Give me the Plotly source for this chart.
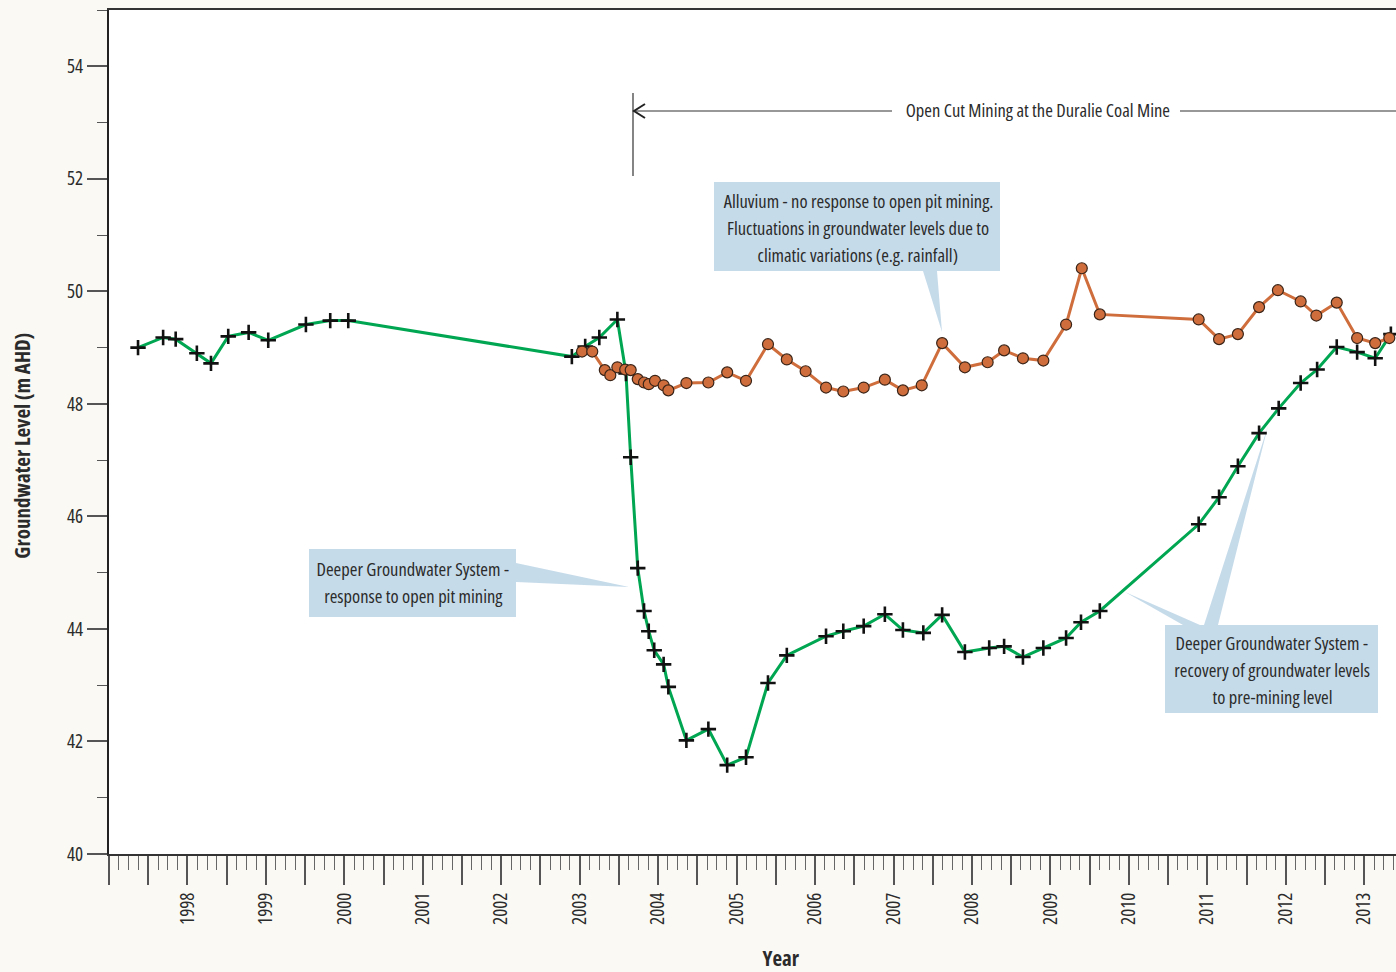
import plotly.graph_objects as go

# ---------------- data ----------------
deep_years = [1997.37, 1997.69, 1997.85, 1998.12, 1998.30, 1998.52, 1998.78, 1999.03,
              1999.51, 1999.82, 2000.05, 2002.90, 2003.07, 2003.25, 2003.48, 2003.59,
              2003.65, 2003.74, 2003.82, 2003.88, 2003.95, 2004.07, 2004.13, 2004.36,
              2004.64, 2004.88, 2005.12, 2005.40, 2005.64, 2006.14, 2006.36, 2006.62,
              2006.89, 2007.12, 2007.38, 2007.62, 2007.91, 2008.22, 2008.41, 2008.65,
              2008.91, 2009.20, 2009.39, 2009.63, 2010.89, 2011.15, 2011.39, 2011.66,
              2011.91, 2012.19, 2012.40, 2012.65, 2012.91, 2013.14, 2013.34]
deep_level = [49.00, 49.18, 49.15, 48.90, 48.72, 49.20, 49.27, 49.13,
              49.41, 49.48, 49.48, 48.84, 49.02, 49.18, 49.50, 48.54,
              47.05, 45.08, 44.32, 43.96, 43.62, 43.37, 42.97, 42.02,
              42.22, 41.58, 41.72, 43.04, 43.53, 43.87, 43.96, 44.05,
              44.26, 43.98, 43.93, 44.25, 43.59, 43.66, 43.69, 43.50,
              43.66, 43.84, 44.12, 44.32, 45.86, 46.34, 46.89, 47.48,
              47.92, 48.37, 48.61, 49.01, 48.92, 48.81, 49.24]

alluv_years = [2003.03, 2003.16, 2003.32, 2003.39, 2003.48, 2003.58, 2003.65, 2003.74,
               2003.82, 2003.88, 2003.96, 2004.07, 2004.13, 2004.36, 2004.64, 2004.88,
               2005.12, 2005.40, 2005.64, 2005.88, 2006.14, 2006.36, 2006.62, 2006.89,
               2007.12, 2007.36, 2007.62, 2007.91, 2008.20, 2008.41, 2008.65, 2008.91,
               2009.20, 2009.40, 2009.63, 2010.89, 2011.15, 2011.39, 2011.66, 2011.90,
               2012.19, 2012.39, 2012.65, 2012.91, 2013.14, 2013.32]
alluv_level = [48.93, 48.93, 48.60, 48.51, 48.65, 48.61, 48.60, 48.44,
               48.38, 48.35, 48.41, 48.33, 48.24, 48.37, 48.38, 48.56,
               48.41, 49.06, 48.79, 48.58, 48.29, 48.22, 48.29, 48.43,
               48.24, 48.33, 49.08, 48.65, 48.74, 48.95, 48.81, 48.77,
               49.41, 50.41, 49.59, 49.50, 49.15, 49.24, 49.72, 50.02,
               49.82, 49.57, 49.80, 49.17, 49.08, 49.17]

year_labels = [str(y) for y in range(1998, 2014)]
y_ticks = [40, 42, 44, 46, 48, 50, 52, 54]

x_title = "Year"
y_title = "Groundwater Level (m AHD)"
mining_text = "Open Cut Mining at the Duralie Coal Mine"
alluvium_lines = ["Alluvium - no response to open pit mining.",
                  "Fluctuations in groundwater levels due to",
                  "climatic variations (e.g. rainfall)"]
response_lines = ["Deeper Groundwater System -", "response to open pit mining"]
recovery_lines = ["Deeper Groundwater System -", "recovery of groundwater levels",
                  "to pre-mining level"]

# ---------------- layout constants ----------------
W, H = 1396, 972
ML, MR, MT, MB = 109, 0, 10, 118
X0 = 1997.0
PX_PER_YEAR = 78.45
X1 = X0 + (W - ML - MR) / PX_PER_YEAR
Y0, Y1 = 40, 55
PX_PER_UNIT = (H - MT - MB) / (Y1 - Y0)

FONT = "Open Sans, Roboto Condensed, sans-serif"
TXT = "#2b2b2b"
CALLOUT = "#C6DBEA"
ANN_SIZE = 18.5


def px2x(px):
    return X0 + (px - ML) / PX_PER_YEAR


def py2y(py):
    return Y0 + (H - MB - py) / PX_PER_UNIT


def px2paper(px):
    return (px - ML) / (W - ML - MR)


def py2paper(py):
    return (H - MB - py) / (H - MT - MB)


fig = go.Figure()

fig.add_trace(go.Scatter(
    x=deep_years, y=deep_level, mode="lines+markers",
    line=dict(color="#00A651", width=3),
    marker=dict(symbol="cross-thin", size=11, color="#111111",
                line=dict(color="#111111", width=2.6)),
    name="Deeper Groundwater System", cliponaxis=False))

fig.add_trace(go.Scatter(
    x=alluv_years, y=alluv_level, mode="lines+markers",
    line=dict(color="#CF6E3C", width=3),
    marker=dict(symbol="circle", size=11, color="#CF6E3C",
                line=dict(color="#3a2418", width=1.2)),
    name="Alluvium", cliponaxis=False))

shapes = []


def poly(points):
    d = "M " + " L ".join(f"{px2x(a)},{py2y(b)}" for a, b in points) + " Z"
    return dict(type="path", path=d, xref="x", yref="y", fillcolor=CALLOUT,
                line=dict(width=0), layer="below")


shapes.append(poly([(714, 182), (1000, 182), (1000, 271), (937, 271), (942, 332), (923, 271), (714, 271)]))
shapes.append(poly([(309, 549), (516, 549), (516, 563), (629, 587), (516, 582), (516, 617), (309, 617)]))
shapes.append(poly([(1165, 625), (1183, 625), (1125, 592), (1200, 625), (1204, 625),
                    (1268, 426), (1218, 625), (1378, 625), (1378, 713), (1165, 713)]))

# mining period arrow
line_style = dict(color="#333333", width=1.2)
shapes.append(dict(type="line", xref="x", yref="y", x0=px2x(633), x1=px2x(633),
                   y0=py2y(93), y1=py2y(176), line=line_style))
shapes.append(dict(type="line", xref="x", yref="y", x0=px2x(633), x1=px2x(892),
                   y0=py2y(111), y1=py2y(111), line=line_style))
shapes.append(dict(type="line", xref="x", yref="y", x0=px2x(1180), x1=X1,
                   y0=py2y(111), y1=py2y(111), line=line_style))
shapes.append(dict(type="path", xref="x", yref="y",
                   path=f"M {px2x(645)},{py2y(104)} L {px2x(634)},{py2y(111)} L {px2x(645)},{py2y(118)}",
                   line=dict(color="#222222", width=2)))

annotations = [dict(x=px2x(1038), y=py2y(109), xref="x", yref="y", showarrow=False,
                    text=mining_text, font=dict(family=FONT, size=ANN_SIZE, color=TXT))]


def add_lines(lines, cx, y_first, step=27):
    for i, t in enumerate(lines):
        annotations.append(dict(x=px2x(cx), y=py2y(y_first + i * step), xref="x", yref="y",
                                showarrow=False, text=t,
                                font=dict(family=FONT, size=ANN_SIZE, color=TXT)))


add_lines(alluvium_lines, 858, 200)
add_lines(response_lines, 413, 568)
add_lines(recovery_lines, 1272, 642)

# axis titles (placed as paper annotations to match the reference position)
annotations.append(dict(x=px2paper(781), y=py2paper(958), xref="paper", yref="paper",
                        xanchor="center", yanchor="middle",
                        showarrow=False, text=f"<b>{x_title}</b>",
                        font=dict(family=FONT, size=21, color=TXT)))
annotations.append(dict(x=px2paper(22), y=py2paper(446), xref="paper", yref="paper",
                        xanchor="center", yanchor="middle",
                        showarrow=False, textangle=-90, text=f"<b>{y_title}</b>",
                        font=dict(family=FONT, size=21, color=TXT)))

x_tickvals = [X0 + 0.5 * i for i in range(int((X1 - X0) / 0.5) + 1)]
x_ticktext = []
for v in x_tickvals:
    lab = str(int(round(v)))
    if abs(v - round(v)) < 1e-9 and lab in year_labels:
        x_ticktext.append(lab)
    else:
        x_ticktext.append("")

fig.update_layout(
    width=W, height=H,
    margin=dict(l=ML, r=MR, t=MT, b=MB, pad=0),
    paper_bgcolor="#FAF9F4", plot_bgcolor="white",
    showlegend=False,
    font=dict(family=FONT, size=17, color=TXT),
    shapes=shapes, annotations=annotations,
    xaxis=dict(range=[X0, X1], showgrid=False, zeroline=False,
               showline=True, linecolor="#333333", linewidth=2, mirror=True,
               ticks="outside", ticklen=29, tickwidth=1.5, tickcolor="#555555",
               tickmode="array", tickvals=x_tickvals, ticktext=x_ticktext,
               tickangle=-90, tickfont=dict(family=FONT, size=19, color=TXT),
               minor=dict(ticks="outside", ticklen=14, tickwidth=1.2, tickcolor="#666666",
                          tick0=X0, dtick=0.125)),
    yaxis=dict(range=[Y0, Y1], showgrid=False, zeroline=False,
               showline=True, linecolor="#222222", linewidth=2,
               ticks="outside", ticklen=20, tickwidth=1.5, tickcolor="#555555",
               tickmode="array", tickvals=y_ticks, ticktext=[str(v) for v in y_ticks],
               tickfont=dict(family=FONT, size=19, color=TXT),
               minor=dict(ticks="outside", ticklen=10, tickwidth=1.2, tickcolor="#555555",
                          tick0=Y0, dtick=1)),
)

post = ("document.body.style.margin='0';"
        "document.documentElement.style.background='#FAF9F4';"
        "document.querySelectorAll('svg text').forEach(function(t){t.style.fontStretch='condensed';});")

fig.write_html("out.html", post_script=post, config={"displayModeBar": False})
